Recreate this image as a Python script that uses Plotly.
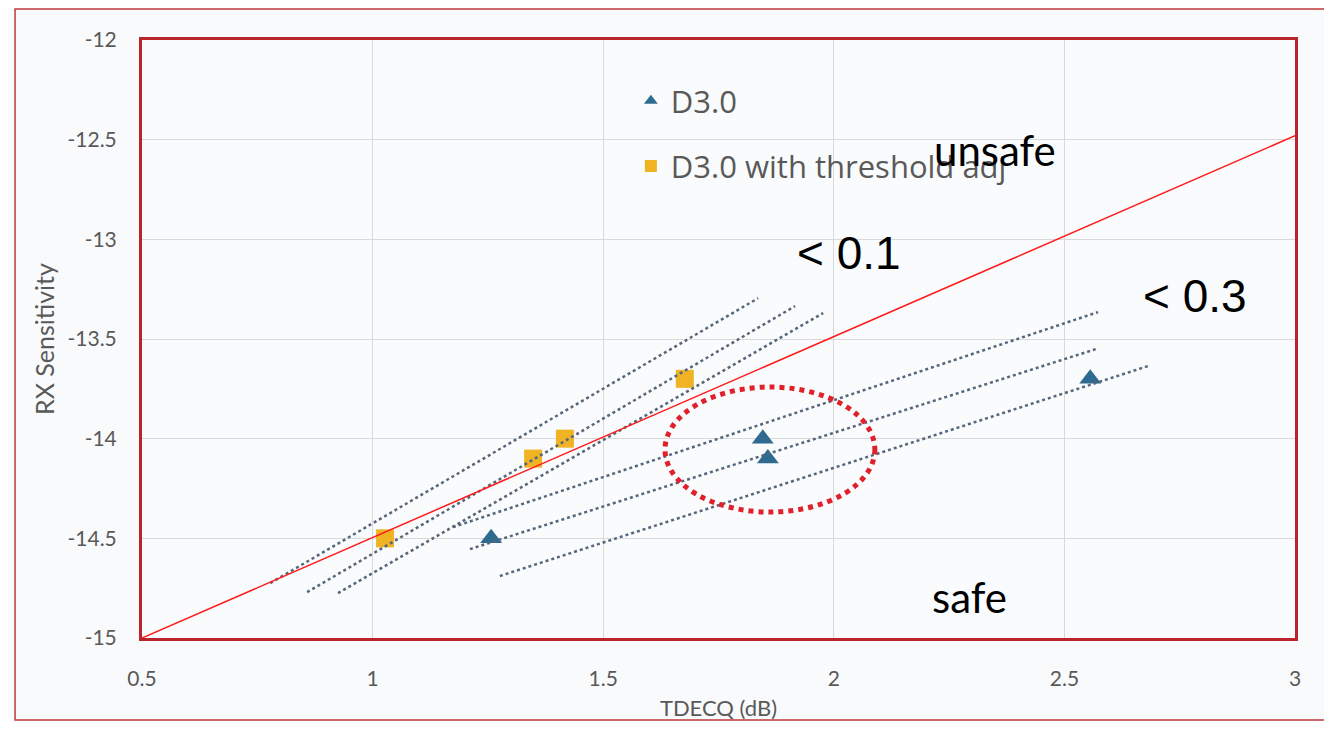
import plotly.graph_objects as go

# ---- data ----
d30_x = [1.257, 1.846, 1.857, 2.556]
d30_y = [-14.50, -14.00, -14.10, -13.70]
adj_x = [1.027, 1.348, 1.417, 1.677]
adj_y = [-14.50, -14.10, -14.00, -13.70]

# dotted trend lines (start/end)
trend_x = [[0.778, 1.836], [0.858, 1.916], [0.925, 1.977],
           [1.174, 2.573], [1.211, 2.569], [1.276, 2.681]]
trend_y = [[-14.725, -13.295], [-14.770, -13.335], [-14.775, -13.370],
           [-14.444, -13.365], [-14.554, -13.550], [-14.689, -13.636]]

# red boundary line
bound_x = [0.5, 3.0]
bound_y = [-15.0, -12.48]

x_ticks = [0.5, 1, 1.5, 2, 2.5, 3]
x_ticklabels = ["0.5", "1", "1.5", "2", "2.5", "3"]
y_ticks = [-15, -14.5, -14, -13.5, -13, -12.5, -12]
y_ticklabels = ["-15", "-14.5", "-14", "-13.5", "-13", "-12.5", "-12"]

labels = ["unsafe", "safe", "< 0.1", "< 0.3"]
label_x = [2.35, 2.295, 2.033, 2.783]
label_y = [-12.552, -14.795, -13.069, -13.285]

ellipse_x = [1.634, 2.089]
ellipse_y = [-14.368, -13.741]

grey = "#595959"
fig = go.Figure()

fig.add_trace(go.Scatter(
    x=d30_x, y=d30_y, mode="markers", name="D3.0", legendgroup="a",
    marker=dict(symbol="triangle-up", size=19, color="#2F6B8F")))
fig.add_trace(go.Scatter(
    x=adj_x, y=adj_y, mode="markers", name="D3.0 with threshold adj", legendgroup="b",
    marker=dict(symbol="square", size=18, color="#F0B323")))

for tx, ty in zip(trend_x, trend_y):
    fig.add_trace(go.Scatter(x=tx, y=ty, mode="lines", showlegend=False,
                             line=dict(color="#56677A", width=2.5, dash="dot"),
                             hoverinfo="skip"))

fig.add_trace(go.Scatter(x=bound_x, y=bound_y, mode="lines", showlegend=False,
                         line=dict(color="#FF1A1A", width=1.5)))

fig.add_shape(type="circle", xref="x", yref="y",
              x0=ellipse_x[0], x1=ellipse_x[1], y0=ellipse_y[0], y1=ellipse_y[1],
              line=dict(color="#E0202A", width=5, dash="dot"))

fonts = [dict(family="Lato", size=42, color="black"),
         dict(family="Lato", size=42, color="black"),
         dict(family="Liberation Sans", size=46, color="black"),
         dict(family="Liberation Sans", size=46, color="black")]
for t, lx, ly, f in zip(labels, label_x, label_y, fonts):
    fig.add_annotation(x=lx, y=ly, xref="x", yref="y", text=t, showarrow=False, font=f)

# outer thin frame
fig.add_shape(type="rect", xref="paper", yref="paper",
              x0=-0.1101, x1=1.0304, y0=-0.1372, y1=1.0518,
              line=dict(color="#C0393B", width=1.5), layer="below")

fig.update_layout(
    width=1316, height=713,
    margin=dict(l=134, r=29, t=32, b=83),
    paper_bgcolor="#F9FAFC", plot_bgcolor="#F9FBFD",
    font=dict(family="Lato", color=grey, size=20),
    showlegend=True,
    legend=dict(x=0.424, y=0.943, xanchor="left", yanchor="top",
                bgcolor="rgba(0,0,0,0)", font=dict(size=31, color=grey, family="Open Sans"),
                tracegroupgap=22, traceorder="grouped", itemsizing="constant"),
    xaxis=dict(range=[0.5, 3], tickvals=x_ticks, ticktext=x_ticklabels,
               showgrid=True, gridcolor="#D9D9D9", gridwidth=1, automargin=False,
               showline=True, mirror=True, linecolor="#B8262B", linewidth=3,
               ticks="outside", ticklen=20, tickcolor="rgba(0,0,0,0)",
               zeroline=False, tickfont=dict(size=21, color=grey),
               title=dict(text="TDECQ (dB)", font=dict(size=22, color=grey), standoff=14)),
    yaxis=dict(range=[-15, -12], tickvals=y_ticks, ticktext=y_ticklabels,
               showgrid=True, gridcolor="#D9D9D9", gridwidth=1, automargin=False,
               showline=True, mirror=True, linecolor="#B8262B", linewidth=3,
               ticks="outside", ticklen=18, tickcolor="rgba(0,0,0,0)",
               zeroline=False, tickfont=dict(size=21, color=grey),
               title=dict(text="RX Sensitivity", font=dict(size=25, color=grey), standoff=6)),
)

fig.write_html("out.html")
